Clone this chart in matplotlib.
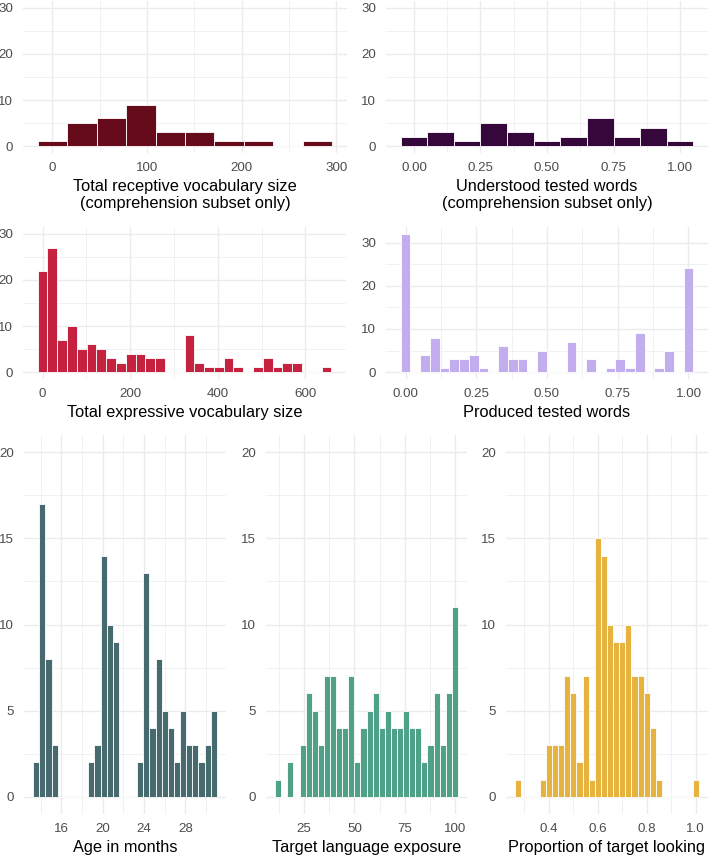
import numpy as np
import matplotlib
matplotlib.use("Agg")
import matplotlib.pyplot as plt
from matplotlib.ticker import MultipleLocator, FixedLocator

plt.rcParams['font.family'] = ['Liberation Sans', 'DejaVu Sans']

# bin centres (first, last, number of bins) and counts
receptive_range = (0, 280, 10)
receptive_counts = [1, 5, 6, 9, 3, 3, 1, 1, 0, 1]

understood_range = (0.0, 1.0, 11)
understood_counts = [2, 3, 1, 5, 3, 1, 2, 6, 2, 4, 1]

expressive_range = (0, 648, 30)
expressive_counts = [22, 27, 7, 10, 5, 6, 5, 3, 2, 4, 4, 3, 3, 0, 0,
                     8, 2, 1, 1, 3, 1, 0, 1, 3, 1, 2, 2, 0, 0, 1]

produced_range = (0.0, 1.0, 30)
produced_counts = [32, 0, 4, 8, 1, 3, 3, 4, 1, 0, 6, 3, 3, 0, 5,
                   0, 0, 7, 0, 3, 0, 1, 3, 1, 9, 0, 1, 5, 0, 24]

age_range = (13.58, 30.74, 30)
age_counts = [2, 17, 8, 3, 0, 0, 0, 0, 0, 2, 3, 14, 10, 9, 0,
              0, 0, 2, 13, 4, 8, 5, 4, 2, 5, 3, 3, 2, 3, 5]

exposure_range = (12, 100, 30)
exposure_counts = [1, 0, 2, 0, 3, 6, 5, 3, 7, 7, 4, 4, 7, 2, 4,
                   5, 6, 4, 5, 4, 4, 5, 4, 4, 2, 3, 6, 3, 6, 11]

looking_range = (0.2755, 1.0, 30)
looking_counts = [1, 0, 0, 0, 1, 3, 3, 3, 7, 6, 2, 7, 1, 15, 14,
                  10, 9, 9, 10, 7, 7, 6, 4, 1, 0, 0, 0, 0, 0, 1]

W, H = 709, 856
fig = plt.figure(figsize=(W / 100, H / 100), dpi=100)

GRID = "#EBEBEB"
TICK_COL = "#4D4D4D"


def panel(box, rng, counts, color, xlabel, ylim, ymaj, ymin, xmaj, xmin, fmt):
    x0, x1, y0, y1 = box  # pixel box, y measured from the top
    ax = fig.add_axes([x0 / W, 1 - y1 / H, (x1 - x0) / W, (y1 - y0) / H])
    lo, hi, n = rng
    centres = np.linspace(lo, hi, n)
    width = (hi - lo) / (n - 1)
    ax.bar(centres, counts, width=width, color=color, edgecolor="white",
           linewidth=0.6, zorder=3)
    left, right = lo - width / 2, hi + width / 2
    pad = (right - left) * 0.05
    ax.set_xlim(left - pad, right + pad)
    ypad = (ylim[1] - ylim[0]) * 0.05
    ax.set_ylim(ylim[0] - ypad, ylim[1] + ypad)
    ax.yaxis.set_major_locator(MultipleLocator(ymaj))
    ax.yaxis.set_minor_locator(MultipleLocator(ymin))
    ax.xaxis.set_major_locator(FixedLocator(xmaj))
    ax.xaxis.set_minor_locator(FixedLocator(xmin))
    ax.xaxis.set_major_formatter(fmt)
    ax.grid(which="major", color=GRID, linewidth=1.0, zorder=0)
    ax.grid(which="minor", color=GRID, linewidth=0.5, zorder=0)
    for s in ax.spines.values():
        s.set_visible(False)
    ax.tick_params(which="both", length=0, labelsize=9.6, labelcolor=TICK_COL)
    ax.tick_params(axis="y", pad=7)
    ax.tick_params(axis="x", pad=6.5)
    ax.set_xlabel(xlabel, fontsize=11.8, color="black", labelpad=3.5,
                  linespacing=1.2)
    ax.set_axisbelow(True)
    return ax


f0 = lambda v, p: f"{v:.0f}"
f2 = lambda v, p: f"{v:.2f}"
f1 = lambda v, p: f"{v:.1f}"

panel((23, 347, 1, 153), receptive_range, receptive_counts, "#660B1C",
      "Total receptive vocabulary size\n(comprehension subset only)",
      (0, 30), 10, 5, [0, 100, 200, 300], [50, 150, 250], f0)
panel((386, 708, 1, 153), understood_range, understood_counts, "#36073B",
      "Understood tested words\n(comprehension subset only)",
      (0, 30), 10, 5, [0, 0.25, 0.5, 0.75, 1.0],
      [0.125, 0.375, 0.625, 0.875], f2)
panel((23, 346, 227, 379), expressive_range, expressive_counts, "#C5223F",
      "Total expressive vocabulary size",
      (0, 30), 10, 5, [0, 200, 400, 600], [100, 300, 500], f0)
panel((386, 708, 227, 379), produced_range, produced_counts, "#C2ADEE",
      "Produced tested words",
      (0, 32), 10, 5, [0, 0.25, 0.5, 0.75, 1.0],
      [0.125, 0.375, 0.625, 0.875], f2)
panel((24, 226, 435, 814), age_range, age_counts, "#466A6E",
      "Age in months",
      (0, 20), 5, 2.5, [16, 20, 24, 28], [14, 18, 22, 26, 30], f0)
panel((266, 467, 435, 814), exposure_range, exposure_counts, "#4FA187",
      "Target language exposure",
      (0, 20), 5, 2.5, [25, 50, 75, 100], [12.5, 37.5, 62.5, 87.5], f0)
panel((506, 708, 435, 814), looking_range, looking_counts, "#E6B33F",
      "Proportion of target looking",
      (0, 20), 5, 2.5, [0.4, 0.6, 0.8, 1.0], [0.3, 0.5, 0.7, 0.9], f1)

fig.savefig("out.png", dpi=100, facecolor="white")
